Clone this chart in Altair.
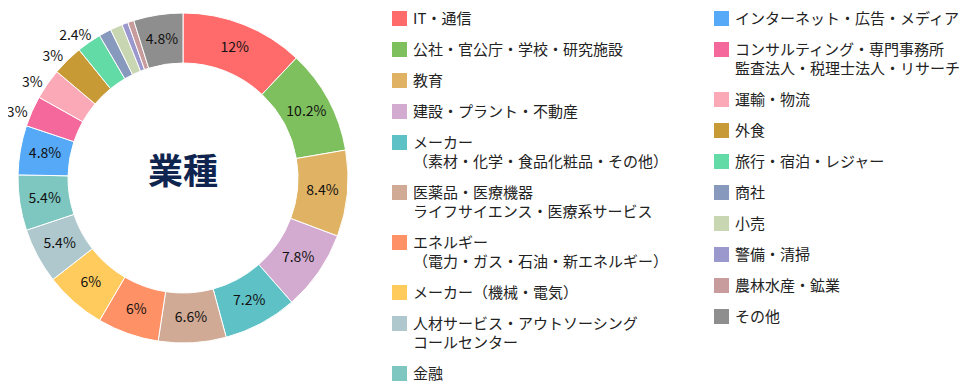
import altair as alt
import pandas as pd

categories = [
    "IT・通信",
    "公社・官公庁・学校・研究施設",
    "教育",
    "建設・プラント・不動産",
    "メーカー\n（素材・化学・食品化粧品・その他）",
    "医薬品・医療機器\nライフサイエンス・医療系サービス",
    "エネルギー\n（電力・ガス・石油・新エネルギー）",
    "メーカー（機械・電気）",
    "人材サービス・アウトソーシング\nコールセンター",
    "金融",
    "インターネット・広告・メディア",
    "コンサルティング・専門事務所\n監査法人・税理士法人・リサーチ",
    "運輸・物流",
    "外食",
    "旅行・宿泊・レジャー",
    "商社",
    "小売",
    "警備・清掃",
    "農林水産・鉱業",
    "その他",
]
values = [12, 10.2, 8.4, 7.8, 7.2, 6.6, 6, 6, 5.4, 5.4,
          4.8, 3, 3, 3, 2.4, 1.2, 1.2, 0.6, 0.6, 4.8]
colors = [
    "#FF6B6B", "#7FC05E", "#E0B264", "#D3ABD0", "#5EC1C6",
    "#D0AA95", "#FF9166", "#FFCB5C", "#AEC8CD", "#7DC7C0",
    "#55A9F6", "#F4689C", "#FBA9B6", "#C79A35", "#63DBA7",
    "#8799BD", "#C8D6B2", "#9B98CE", "#C89B9C", "#8E8E8E",
]
center_title = "業種"
first_column_count = 10

FONT = "Noto Sans CJK JP"

df = pd.DataFrame({"category": categories, "value": values,
                   "order": list(range(len(categories)))})
total = sum(values)

base = (
    alt.Chart(df)
    .transform_window(cum="sum(value)", sort=[alt.SortField("order")], frame=[None, 0])
    .transform_calculate(
        start="datum.cum - datum.value",
        mid="datum.cum - datum.value / 2",
        outer_pos="datum.cum - datum.value / 2 - 0.7",
        label="datum.value + '%'",
    )
)

theta_scale = alt.Scale(domain=[0, total])


def legend_at(x):
    return alt.Legend(
        title=None, orient="none", legendX=x, legendY=3,
        direction="vertical", columns=1,
        symbolType="square", symbolSize=225, symbolStrokeWidth=0,
        labelFontSize=15, labelFont=FONT, labelColor="#222222",
        labelOffset=6, labelLimit=400, rowPadding=15, padding=0,
        labelExpr="split(datum.label, '\\n')",
    )


def arcs(cats, cols, x):
    return base.transform_filter(
        alt.FieldOneOfPredicate(field="category", oneOf=cats)
    ).mark_arc(innerRadius=115, outerRadius=165, stroke="white", strokeWidth=1).encode(
        theta=alt.Theta("start:Q", stack=None, scale=theta_scale),
        theta2=alt.Theta2("cum:Q"),
        color=alt.Color("category:N", scale=alt.Scale(domain=cats, range=cols),
                        legend=legend_at(x)),
    )


arcs1 = arcs(categories[:first_column_count], colors[:first_column_count], 384)
arcs2 = arcs(categories[first_column_count:], colors[first_column_count:], 706)

text_in = base.transform_filter("datum.value >= 4").mark_text(
    radius=140, fontSize=14, font=FONT, color="#111111"
).encode(
    theta=alt.Theta("mid:Q", stack=None, scale=theta_scale),
    text="label:N",
)

text_out = base.transform_filter("datum.value >= 2 && datum.value < 4").mark_text(
    radius=178, fontSize=14, font=FONT, color="#111111"
).encode(
    theta=alt.Theta("outer_pos:Q", stack=None, scale=theta_scale),
    text="label:N",
)

center = alt.Chart(pd.DataFrame({"title": [center_title]})).mark_text(
    fontSize=35, fontWeight="bold", font=FONT, color="#0F2550", dy=-5
).encode(text="title:N")

chart = (
    alt.layer(arcs1, arcs2, text_in, text_out, center)
    .resolve_scale(color="independent")
    .properties(
        width=350, height=340,
        autosize=alt.AutoSizeParams(type="none"),
        padding={"left": 0, "top": 0, "right": 614, "bottom": 39},
    )
    .configure_view(stroke=None)
    .configure(font=FONT, style={"guide-label": {"lineHeight": 19}})
)

chart.save("out.html", embed_options={"renderer": "svg", "actions": False})
